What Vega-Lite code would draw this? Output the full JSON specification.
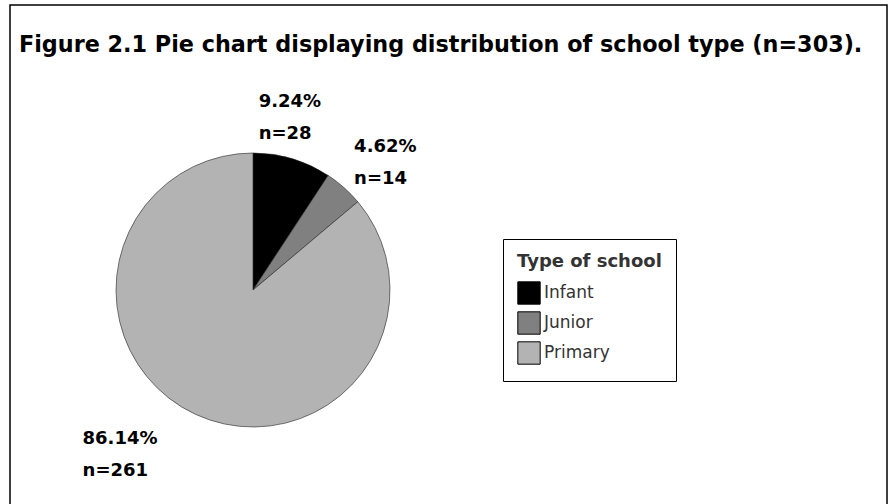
{
  "$schema": "https://vega.github.io/schema/vega-lite/v6.json",
  "width": 877,
  "height": 503,
  "autosize": {"type": "none"},
  "padding": {"left": 10, "top": 5, "right": 1, "bottom": 0},
  "background": "white",
  "config": {"view": {"stroke": "black", "strokeWidth": 1.5}, "font": "DejaVu Sans"},
  "title": {
    "text": "Figure 2.1 Pie chart displaying distribution of school type (n=303).",
    "anchor": "start",
    "frame": "group",
    "orient": "top",
    "offset": -51,
    "dx": 9,
    "fontSize": 22.3,
    "fontWeight": "bold",
    "font": "DejaVu Sans",
    "color": "black"
  },
  "data": {
    "values": [
      {"type": "Infant", "n": 28, "label": "9.24%\nn=28"},
      {"type": "Junior", "n": 14, "label": "4.62%\nn=14"},
      {"type": "Primary", "n": 261, "label": "86.14%\nn=261"}
    ]
  },
  "encoding": {
    "theta": {"field": "n", "type": "quantitative", "stack": true},
    "order": {"field": "type", "sort": "ascending"},
    "x": {"value": 243},
    "y": {"value": 285}
  },
  "layer": [
    {
      "mark": {"type": "arc", "outerRadius": 137, "stroke": "#222222", "strokeWidth": 0.6},
      "encoding": {
        "color": {
          "field": "type",
          "type": "nominal",
          "scale": {"domain": ["Infant", "Junior", "Primary"], "range": ["#000000", "#808080", "#b3b3b3"]},
          "legend": {
            "orient": "none",
            "legendX": 493,
            "legendY": 234,
            "title": "Type of school",
            "titleFont": "DejaVu Sans",
            "titleFontSize": 18,
            "titleFontWeight": "bold",
            "titleColor": "#333333",
            "titlePadding": 10,
            "labelFont": "DejaVu Sans",
            "labelFontSize": 17,
            "labelColor": "#333333",
            "labelOffset": 3,
            "symbolType": "square",
            "symbolSize": 500,
            "symbolStrokeColor": "#000000",
            "symbolStrokeWidth": 1,
            "symbolOpacity": 1,
            "rowPadding": 2,
            "strokeColor": "#000000",
            "fillColor": "white",
            "padding": 14
          }
        }
      }
    },
    {
      "mark": {"type": "text", "radius": 177, "dx": -45, "dy": -18.5, "align": "left", "baseline": "middle", "font": "DejaVu Sans", "fontSize": 18, "fontWeight": "bold", "lineBreak": "\n", "lineHeight": 32, "color": "black"},
      "encoding": {
        "text": {"condition": {"test": "datum.type == 'Infant'", "field": "label"}, "value": ""}
      }
    },
    {
      "mark": {"type": "text", "radius": 184, "dx": -21, "dy": -5.5, "align": "left", "baseline": "middle", "font": "DejaVu Sans", "fontSize": 18, "fontWeight": "bold", "lineBreak": "\n", "lineHeight": 32, "color": "black"},
      "encoding": {
        "text": {"condition": {"test": "datum.type == 'Junior'", "field": "label"}, "value": ""}
      }
    },
    {
      "mark": {"type": "text", "radius": 212, "dx": -81, "dy": -43.5, "align": "left", "baseline": "middle", "font": "DejaVu Sans", "fontSize": 18, "fontWeight": "bold", "lineBreak": "\n", "lineHeight": 32, "color": "black"},
      "encoding": {
        "text": {"condition": {"test": "datum.type == 'Primary'", "field": "label"}, "value": ""}
      }
    }
  ]
}
